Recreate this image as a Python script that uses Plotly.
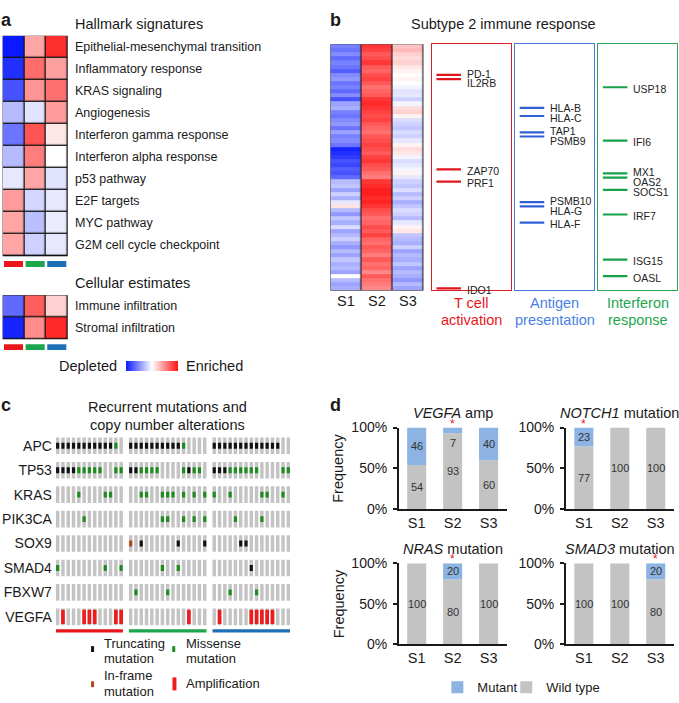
import plotly.graph_objects as go

W, H = 679, 703
FONT = "Liberation Sans, Arial, Helvetica, sans-serif"
INK = "#1a1a1a"

# ---------------- data ----------------
subtypes = ["S1", "S2", "S3"]

# panel a
hallmarks = ["Epithelial-mesenchymal transition", "Inflammatory response", "KRAS signaling",
             "Angiogenesis", "Interferon gamma response", "Interferon alpha response",
             "p53 pathway", "E2F targets", "MYC pathway", "G2M cell cycle checkpoint"]
hallmark_S1 = [-1.00, -0.90, -0.75, -0.30, -0.60, -0.30, -0.10, 0.42, 0.38, 0.38]
hallmark_S2 = [0.38, 0.62, 0.45, -0.12, 0.72, 0.55, 0.38, -0.18, -0.28, -0.20]
hallmark_S3 = [0.88, 0.40, 0.60, 0.42, 0.10, 0.00, -0.12, -0.10, -0.08, -0.10]
cellular = ["Immune infiltration", "Stromal infiltration"]
cellular_S1 = [-0.65, -0.95]
cellular_S2 = [0.68, 0.48]
cellular_S3 = [0.20, 0.90]

# panel b (60 immune genes, rows top->bottom)
immune_S1 = [-0.55, -0.60, -0.50, -0.65, -0.55, -0.60, -0.70, -0.50, -0.45, -0.60,
             -0.55, -0.65, -0.50, -0.75, -0.40, -0.35, -0.55, -0.60, -0.50, -0.45,
             -0.60, -0.40, -0.55, -0.50, -0.60, -0.95, -0.90, -0.85, -0.75, -0.80,
             -0.70, -0.75, -0.65, -0.30, -0.25, -0.40, -0.20, -0.35, -0.10, 0.12,
             -0.30, -0.45, -0.25, -0.35, -0.15, -0.40, -0.30, -0.20, -0.35, -0.45,
             -0.30, -0.40, -0.25, -0.35, -0.30, -0.40, 0.00, -0.30, -0.40, -0.35]
immune_S2 = [0.85, 0.80, 0.70, 0.75, 0.85, 0.70, 0.65, 0.75, 0.80, 0.70,
             0.60, 0.65, 0.70, 0.85, 0.90, 0.85, 0.80, 0.75, 0.80, 0.70,
             0.65, 0.60, 0.70, 0.75, 0.80, 0.75, 0.70, 0.80, 0.85, 0.75,
             0.70, 0.60, 0.55, 0.85, 0.90, 0.95, 0.95, 0.90, 0.92, 0.85,
             0.75, 0.70, 0.60, 0.65, 0.75, 0.70, 0.80, 0.65, 0.60, 0.70,
             0.65, 0.55, 0.70, 0.60, 0.65, 0.50, 0.70, 0.60, 0.55, 0.50]
immune_S3 = [0.25, 0.30, 0.20, 0.15, 0.20, 0.10, 0.05, 0.00, 0.05, 0.00,
             -0.05, -0.12, -0.10, -0.20, -0.05, 0.15, 0.20, 0.05, -0.15, -0.20,
             -0.25, -0.15, -0.20, -0.10, 0.05, 0.15, 0.10, -0.05, -0.15, -0.10,
             -0.05, 0.05, -0.10, -0.20, -0.25, -0.15, -0.30, -0.20, -0.35, -0.25,
             -0.15, -0.20, -0.30, -0.10, 0.05, 0.10, -0.25, -0.30, -0.35, -0.20,
             -0.40, -0.30, -0.35, -0.25, -0.40, -0.30, -0.35, -0.45, -0.30, -0.40]
tcell_genes = ["PD-1", "IL2RB", "ZAP70", "PRF1", "IDO1"]
tcell_rows = [7, 8, 30, 33, 59]
antigen_genes = ["HLA-B", "HLA-C", "TAP1", "PSMB9", "PSMB10", "HLA-G", "HLA-F"]
antigen_rows = [15, 17, 21, 22, 38, 39, 43]
ifn_genes = ["USP18", "IFI6", "MX1", "OAS2", "SOCS1", "IRF7", "ISG15", "OASL"]
ifn_rows = [10, 23, 31, 32, 35, 41, 52, 56]

# panel c  (. none, T truncating, M missense, I in-frame, A amplification)
mut_genes = ["APC", "TP53", "KRAS", "PIK3CA", "SOX9", "SMAD4", "FBXW7", "VEGFA"]
mut_S1 = ["TTTTTTTTTTTM.", "TTTTMMMMM..MM", "....M....MM..", ".....M.......",
          ".............", "M........M..M", ".............", ".A...AAA...AA"]
mut_S2 = ["TTTTTTTTTTM....", "TTMMMM....MTMM.", "..MM..MMM.M.M.M", "......MM..M.M.M",
          "I.T......T....T", "......M..M.....", ".M.....M.......", "...........A..."]
mut_S3 = ["TTTTTTTTTTTTT..", "TTTMMMMMM....MM", "M..M.....MM..M.", "....M....M.....",
          ".....TT........", ".......T.......", "...M....M......", ".A.....AAAAA..."]

# panel d
freq_titles = ["<i>VEGFA</i> amp", "<i>NOTCH1</i> mutation", "<i>NRAS</i> mutation", "<i>SMAD3</i> mutation"]
mutant_pct = [[46, 7, 40], [23, 0, 0], [0, 20, 0], [0, 0, 20]]
wildtype_pct = [[54, 93, 60], [77, 100, 100], [100, 80, 100], [100, 100, 80]]
significant = [1, 0, 1, 2]

# ---------------- styles ----------------
RED, GREEN, BLUE = "#e8161b", "#1ba54c", "#1d6fb8"
CS = [[0, "rgb(10,25,255)"], [0.5, "rgb(255,255,255)"], [1, "rgb(255,18,18)"]]
MUT_COL = {"T": "#111111", "M": "#1c8c1c", "I": "#b3471c", "A": "#ee1c1c"}


def xdom(a, b):
    return [a / W, b / W]


def ydom(top, bottom):
    return [1 - bottom / H, 1 - top / H]


fig = go.Figure()
axes = {}
shapes = []
annots = []
count = [0]


def new_axes(xd, yd, xo=None, yo=None):
    count[0] += 1
    n = count[0]
    s = "" if n == 1 else str(n)
    base = dict(showgrid=False, zeroline=False, showticklabels=False, ticks="", showline=False,
                fixedrange=True)
    xa = dict(base, domain=xd, anchor="y" + s)
    xa.update(xo or {})
    ya = dict(base, domain=yd, anchor="x" + s)
    ya.update(yo or {})
    axes["xaxis" + s] = xa
    axes["yaxis" + s] = ya
    return "x" + s, "y" + s


def text(x, y, s, size=14.5, color=INK, xanchor="left", bold=False, lh=17.3):
    lines = s.split("\n")
    for i, ln in enumerate(lines):
        yy = y + (i - (len(lines) - 1) / 2) * lh
        annots.append(dict(x=x / W, y=1 - yy / H, xref="paper", yref="paper", text=("<b>%s</b>" % ln) if bold else ln,
                           showarrow=False, xanchor=xanchor, yanchor="middle",
                           font=dict(size=size, color=color, family=FONT)))


def rect_px(x0, y0, x1, y1, color):
    shapes.append(dict(type="rect", xref="paper", yref="paper", x0=x0 / W, x1=x1 / W,
                       y0=1 - y1 / H, y1=1 - y0 / H, fillcolor=color, line=dict(width=0)))


# ---------------- panel a ----------------
def small_heatmap(rows, v1, v2, v3, top, bottom):
    xr, yr = new_axes(xdom(2.7, 67.7), ydom(top, bottom),
                      dict(range=[-0.5, 2.5]), dict(range=[len(rows) - 0.5, -0.5]))
    z = [[a, b, c] for a, b, c in zip(v1, v2, v3)]
    fig.add_trace(go.Heatmap(z=z, x=[0, 1, 2], y=list(range(len(rows))), coloraxis="coloraxis",
                             xgap=1.3, ygap=1.3, xaxis=xr, yaxis=yr, hoverinfo="skip"))
    shapes.append(dict(type="rect", xref=xr, yref=yr, x0=-0.5, x1=2.5, y0=-0.5, y1=len(rows) - 0.5,
                       fillcolor="#111111", line=dict(color="#111111", width=1.4), layer="below"))
    for i, lab in enumerate(rows):
        annots.append(dict(x=73 / W, xref="paper", y=i, yref=yr, text=lab, showarrow=False,
                           xanchor="left", yanchor="middle", font=dict(size=12.5, color=INK, family=FONT)))
    for i, col in enumerate([RED, GREEN, BLUE]):
        shapes.append(dict(type="rect", xref=xr, yref="paper", x0=i - 0.44, x1=i + 0.44,
                           y0=1 - (bottom + 11) / H, y1=1 - (bottom + 5) / H, fillcolor=col, line=dict(width=0)))


text(-1, 12, "a", 18, bold=True, xanchor="left")
text(73, 16, "Hallmark signatures", 14.5)
small_heatmap(hallmarks, hallmark_S1, hallmark_S2, hallmark_S3, 28.5, 254)
text(73, 281.7, "Cellular estimates", 14.5)
small_heatmap(cellular, cellular_S1, cellular_S2, cellular_S3, 294, 339)
text(119, 366, "Depleted", 14.5, xanchor="right")
text(184, 366, "Enriched", 14.5, xanchor="left")

# ---------------- panel b ----------------
text(336, 12, "b", 18, bold=True, xanchor="center")
text(504, 16, "Subtype 2 immune response", 14.5, xanchor="center")
NROW = len(immune_S1)
B_TOP, B_BOT = 37, 289
rowh = (B_BOT - B_TOP) / NROW
xr, yr = new_axes(xdom(331, 424), ydom(B_TOP, B_BOT),
                  dict(range=[-0.5, 2.5], showticklabels=True, tickvals=[0, 1, 2], ticktext=subtypes,
                       tickfont=dict(size=14.5, color=INK, family=FONT)),
                  dict(range=[NROW - 0.5, -0.5]))
fig.add_trace(go.Heatmap(z=[[a, b, c] for a, b, c in zip(immune_S1, immune_S2, immune_S3)],
                         x=[0, 1, 2], y=list(range(NROW)), coloraxis="coloraxis", xgap=1.2, ygap=0,
                         xaxis=xr, yaxis=yr, hoverinfo="skip"))
shapes.append(dict(type="rect", xref=xr, yref=yr, x0=-0.5, x1=2.5, y0=-0.5, y1=NROW - 0.5,
                   fillcolor="#222222", line=dict(color="#222222", width=1.2), layer="below"))


def spread(pos, gap=10.0):
    clusters = [[p] for p in pos]

    def place(c):
        m = sum(c) / len(c)
        return [m + (k - (len(c) - 1) / 2) * gap for k in range(len(c))]

    changed = True
    while changed:
        changed = False
        placed = [place(c) for c in clusters]
        for i in range(len(clusters) - 1):
            if placed[i + 1][0] - placed[i][-1] < gap:
                clusters[i] = clusters[i] + clusters[i + 1]
                del clusters[i + 1]
                changed = True
                break
    out = []
    for c in clusters:
        out += place(c)
    return out


def gene_box(x0, x1, genes, rows, line_col, box_col, title, title_col):
    xr, yr = new_axes(xdom(x0, x1), ydom(B_TOP, B_BOT),
                      dict(range=[0, 1], showline=True, mirror=True, linecolor=box_col, linewidth=1.3),
                      dict(range=[NROW - 0.5, -0.5], showline=True, mirror=True, linecolor=box_col, linewidth=1.3))
    xs, ys = [], []
    for r in rows:
        xs += [0.06, 0.37, None]
        ys += [r, r, None]
    fig.add_trace(go.Scatter(x=xs, y=ys, mode="lines", line=dict(color=line_col, width=2.2),
                             xaxis=xr, yaxis=yr, hoverinfo="skip", showlegend=False))
    line_px = [r * rowh for r in rows]
    lab_px = [p + 1.5 for p in spread(line_px)]
    for g, r, lp, lb in zip(genes, rows, line_px, lab_px):
        annots.append(dict(x=0.42, xref=xr, y=r, yref=yr, yshift=-(lb - lp), text=g, showarrow=False,
                           xanchor="left", yanchor="middle", font=dict(size=10.5, color="#222222", family=FONT)))
    text((x0 + x1) / 2, 310.35, title, 14.5, title_col, xanchor="center", lh=17.3)


gene_box(432.3, 511.7, tcell_genes, tcell_rows, "#e0161c", "#dc2026", "T cell\nactivation", "#e8161b")
gene_box(515.7, 595, antigen_genes, antigen_rows, "#2f61d3", "#4a78d6", "Antigen\npresentation", "#4a7fe4")
gene_box(599, 678.3, ifn_genes, ifn_rows, "#16a04a", "#2aa851", "Interferon\nresponse", "#23a64d")

# ---------------- panel c ----------------
text(6, 406.7, "c", 18, bold=True, xanchor="center")
text(167.5, 417.5, "Recurrent mutations and\ncopy number alterations", 14.5, xanchor="center", lh=18.4)
group_offsets = [0, 13.8, 29.6]
groups = [mut_S1, mut_S2, mut_S3]
xr, yr = new_axes(xdom(56, 290.5), ydom(435.5, 635.5),
                  dict(range=[-0.33, 43.93]),
                  dict(range=[len(mut_genes) - 0.5, -0.5], showticklabels=True,
                       tickvals=list(range(len(mut_genes))), ticktext=mut_genes,
                       tickfont=dict(size=14, color=INK, family=FONT), ticklabelstandoff=3))
bgx, bgy = [], []
marks = {k: ([], []) for k in MUT_COL}
for off, grp in zip(group_offsets, groups):
    for gi, s in enumerate(grp):
        for si, ch in enumerate(s):
            bgx.append(off + si)
            bgy.append(gi)
            if ch in marks:
                marks[ch][0].append(off + si)
                marks[ch][1].append(gi)
fig.add_trace(go.Bar(x=bgx, y=[0.68] * len(bgx), base=[g - 0.34 for g in bgy], width=0.66,
                     marker=dict(color="#c4c4c4", line=dict(width=0)), xaxis=xr, yaxis=yr,
                     hoverinfo="skip", showlegend=False))
for k, (mx, my) in marks.items():
    hgt = 0.58 if k == "A" else 0.24
    fig.add_trace(go.Bar(x=mx, y=[hgt] * len(mx), base=[g - hgt / 2 for g in my],
                         width=0.7 if k == "A" else 0.6,
                         marker=dict(color=MUT_COL[k], line=dict(width=0)), xaxis=xr, yaxis=yr,
                         hoverinfo="skip", showlegend=False))
for off, grp, col in zip(group_offsets, groups, [RED, GREEN, BLUE]):
    n = len(grp[0])
    shapes.append(dict(type="rect", xref=xr, yref="paper", x0=off - 0.33, x1=off + n - 1 + 0.33,
                       y0=1 - 639 / H, y1=1 - 635.8 / H, fillcolor=col, line=dict(width=0)))
# legend for panel c
rect_px(91.2, 653, 94.2, 659, MUT_COL["T"])
text(101.7, 658, "Truncating\nmutation", 13, lh=16)
rect_px(172.5, 653, 175.5, 659, MUT_COL["M"])
text(184, 658, "Missense\nmutation", 13, lh=16)
rect_px(91.2, 689, 94.2, 695, MUT_COL["I"])
text(101.7, 691.2, "In-frame\nmutation", 13, lh=16)
rect_px(172.7, 685, 176.7, 698.3, MUT_COL["A"])
text(184, 691.7, "Amplification", 13)

# ---------------- panel d ----------------
text(336, 406.7, "d", 18, bold=True, xanchor="center")
d_boxes = [(399.3, 507.3, 429.3, 512.7), (566.7, 674.7, 429.3, 512.7),
           (399.3, 507.3, 568.3, 651.0), (566.7, 674.7, 568.3, 651.0)]
for k, (x0, x1, y0, y1) in enumerate(d_boxes):
    xr, yr = new_axes(xdom(x0, x1), ydom(y0, y1),
                      dict(range=[-0.5, 2.5], showline=True, linecolor=INK, linewidth=1.5,
                           showticklabels=True, tickvals=[0, 1, 2], ticktext=subtypes,
                           tickfont=dict(size=14.5, color=INK, family=FONT)),
                      dict(range=[0, 100], showline=True, linecolor=INK, linewidth=1.5,
                           showticklabels=True, tickvals=[0, 50, 100], ticktext=["0%", "50%", "100%"],
                           ticks="outside", ticklen=4, tickwidth=1.5, tickcolor=INK, ticklabelstandoff=3,
                           tickfont=dict(size=14, color=INK, family=FONT)))
    wt, mu = wildtype_pct[k], mutant_pct[k]
    fig.add_trace(go.Bar(x=[0, 1, 2], y=wt, base=[0, 0, 0], width=0.53, name="Wild type",
                         marker=dict(color="#c3c3c3", line=dict(width=0)), xaxis=xr, yaxis=yr,
                         showlegend=(k == 0), legend="legend2", hoverinfo="skip"))
    fig.add_trace(go.Bar(x=[0, 1, 2], y=mu, base=wt, width=0.53, name="Mutant",
                         marker=dict(color="#8db3e2", line=dict(width=0)), xaxis=xr, yaxis=yr,
                         showlegend=(k == 0), legend="legend", hoverinfo="skip"))
    for i in range(3):
        if mu[i] > 0:
            ym = wt[i] + mu[i] / 2 if mu[i] >= 12 else wt[i] - 12
            annots.append(dict(x=i, y=ym, xref=xr, yref=yr, text=str(mu[i]), showarrow=False,
                               font=dict(size=11, color="#333333", family=FONT)))
        annots.append(dict(x=i, y=wt[i] / 2, xref=xr, yref=yr, text=str(wt[i]), showarrow=False,
                           font=dict(size=11, color="#333333", family=FONT)))
    annots.append(dict(x=significant[k], y=100, xref=xr, yref=yr, text="*", showarrow=False,
                       yanchor="bottom", yshift=-5, font=dict(size=12, color="#e8161b", family=FONT)))
    annots.append(dict(x=0.5, xref=xr + " domain", y=1, yref=yr + " domain", text=freq_titles[k],
                       showarrow=False, yanchor="middle", yshift=14.3,
                       font=dict(size=14.5, color=INK, family=FONT)))
    if k % 2 == 0:
        annots.append(dict(x=339 / W, xref="paper", y=0.5, yref=yr + " domain", text="Frequency",
                           showarrow=False, textangle=-90, font=dict(size=14.5, color=INK, family=FONT)))

leg_style = dict(orientation="h", y=1 - 695 / H, xanchor="left", yanchor="middle",
                 font=dict(size=13, color=INK, family=FONT), itemwidth=30, bgcolor="rgba(0,0,0,0)")
fig.update_layout(
    width=W, height=H, margin=dict(l=0, r=0, t=0, b=0), autosize=False,
    paper_bgcolor="white", plot_bgcolor="white",
    font=dict(family=FONT, size=14, color=INK),
    barmode="overlay", showlegend=True,
    legend=dict(leg_style, x=438 / W),
    legend2=dict(leg_style, x=507 / W),
    coloraxis=dict(colorscale=CS, cmin=-1, cmax=1,
                   colorbar=dict(orientation="h", x=152 / W, xanchor="center", y=1 - 366 / H, yanchor="middle",
                                 lenmode="pixels", len=52, thickness=10, outlinewidth=0,
                                 showticklabels=False, ticks="", xpad=0, ypad=0)),
    shapes=shapes, annotations=annots,
    **axes,
)
fig.write_html(
    "out.html",
    config={"displayModeBar": False, "responsive": False},
    post_script=("var gd=document.getElementById('{plot_id}');"
                 "gd.style.position='fixed';gd.style.left='0px';gd.style.top='0px';"
                 "document.body.style.margin='0';document.body.style.overflow='hidden';"
                 "document.documentElement.style.overflow='hidden';"),
)
